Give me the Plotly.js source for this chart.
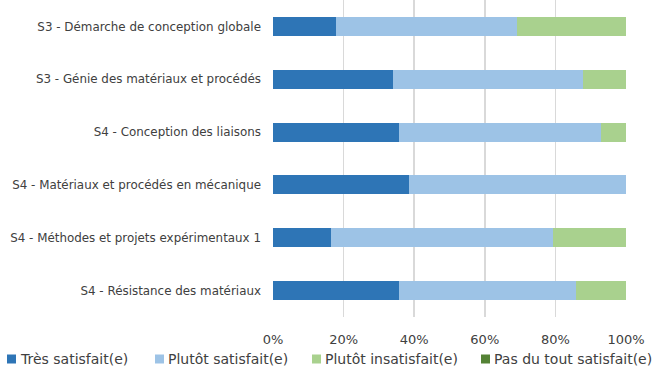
<!DOCTYPE html>
<html><head><meta charset="utf-8">
<script src="https://cdn.plot.ly/plotly-3.0.1.min.js"></script>
<style>body{margin:0;padding:0;background:#fff}#chart{width:654px;height:372px}</style>
</head><body><div id="chart"></div>
<script>
const categories = [
  "S3 - Démarche de conception globale",
  "S3 - Génie des matériaux et procédés",
  "S4 - Conception des liaisons",
  "S4 - Matériaux et procédés en mécanique",
  "S4 - Méthodes et projets expérimentaux 1",
  "S4 - Résistance des matériaux"
];
const tresSatisfait = [0.179, 0.339, 0.357, 0.385, 0.164, 0.357];
const plutotSatisfait = [0.513, 0.540, 0.572, 0.615, 0.629, 0.500];
const plutotInsatisfait = [0.308, 0.121, 0.071, 0.0, 0.207, 0.143];
const pasDuTout = [0, 0, 0, 0, 0, 0];
const seriesNames = ["Très satisfait(e)", "Plutôt satisfait(e)", "Plutôt insatisfait(e)", "Pas du tout satisfait(e)"];
const colors = ["#2e75b6", "#9dc3e6", "#a9d18e", "#548235"];
const tickVals = [0, 0.2, 0.4, 0.6, 0.8, 1.0];
const tickText = ["0%", "20%", "40%", "60%", "80%", "100%"];

const seriesData = [tresSatisfait, plutotSatisfait, plutotInsatisfait, pasDuTout];
const traces = seriesData.map((vals, i) => ({
  type: "bar", orientation: "h", name: seriesNames[i],
  x: vals, y: categories,
  marker: {color: colors[i], line: {width: 0}},
  hoverinfo: "none", showlegend: false
}));

// custom legend (layout geometry, pixels converted to paper fractions)
const L = 273, PW = 353, PH = 317;
const px = v => (v - L) / PW;
const py = v => (PH - v) / PH;
const legendSquareX = [7, 155, 312, 481];
const legendCY = 359;
const shapes = seriesNames.map((n, i) => ({
  type: "rect", xref: "paper", yref: "paper",
  x0: px(legendSquareX[i]), x1: px(legendSquareX[i] + 9),
  y0: py(legendCY + 4.5), y1: py(legendCY - 4.5),
  fillcolor: colors[i], line: {width: 0}
}));
const annotations = seriesNames.map((n, i) => ({
  xref: "paper", yref: "paper",
  x: px(legendSquareX[i] + 11), y: py(legendCY),
  xanchor: "left", yanchor: "middle", showarrow: false,
  text: n, font: {family: "DejaVu Sans", size: 14, color: "#404040"}
}));

const layout = {
  width: 654, height: 372,
  margin: {l: L, r: 654 - L - PW, t: 0, b: 372 - PH},
  barmode: "stack", bargap: 0.64,
  paper_bgcolor: "#fff", plot_bgcolor: "#fff",
  font: {family: "DejaVu Sans", size: 11, color: "#404040"},
  showlegend: false,
  shapes: shapes,
  annotations: annotations,
  xaxis: {range: [0, 1], tickvals: tickVals, ticktext: tickText, showgrid: true,
          gridcolor: "#d9d9d9", gridwidth: 1.5, zeroline: false, showline: false,
          ticks: "", ticklabelstandoff: 13, fixedrange: true, automargin: false,
          tickfont: {size: 13, color: "#404040"}},
  yaxis: {autorange: "reversed", showgrid: false, zeroline: false, showline: false,
          ticks: "", ticklabelstandoff: 11, automargin: false,
          tickfont: {size: 11.9, color: "#404040"}}
};
Plotly.newPlot("chart", traces, layout, {displayModeBar: false, staticPlot: true});
</script></body></html>
